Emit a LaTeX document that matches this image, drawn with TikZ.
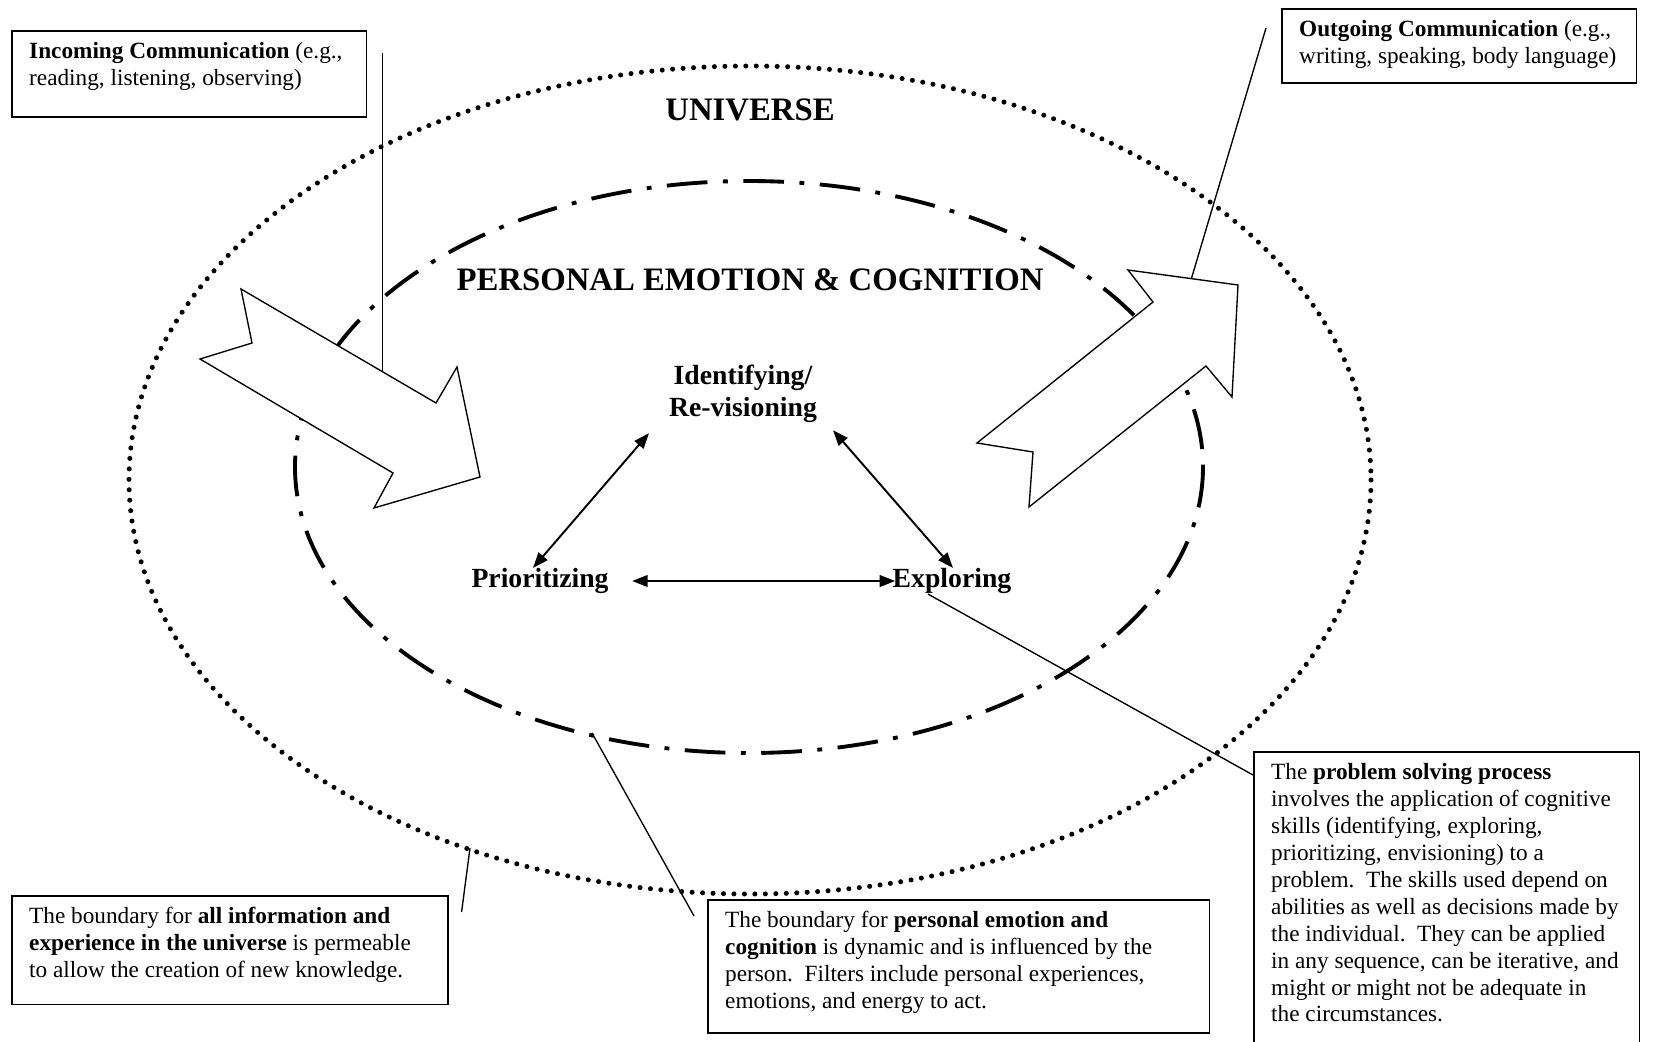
\documentclass[tikz,border=0pt]{standalone}
\usepackage{fontspec}
\setmainfont{Liberation Serif}
\usetikzlibrary{arrows.meta,calc}

\newcommand{\notebody}[3]{\parbox[t][#1][t]{#2}{\raggedright #3}}

\begin{document}
\begin{tikzpicture}[x=0.516pt,y=-0.516pt,
  note/.style={draw,line width=0.8pt,anchor=north west,inner xsep=9pt,inner ysep=6pt,font=\fontsize{12}{13.9}\selectfont},
  title/.style={font=\fontsize{16.9}{20}\selectfont\bfseries},
  skill/.style={font=\fontsize{14.3}{16.5}\selectfont\bfseries,align=center,inner sep=0pt},
  link/.style={{Triangle[length=8pt,width=6pt]}-{Triangle[length=8pt,width=6pt]},line width=1pt},
  pointer/.style={line width=0.7pt},
  universe/.style={line width=2.6pt,line cap=round,dash pattern=on 0pt off 5.4pt},
  personal/.style={line width=2pt,dash pattern=on 21pt off 8pt on 2.5pt off 8pt},
  bigarrow/.style={draw,fill=white,line width=0.7pt}]

\useasboundingbox (0,0) rectangle (1654,1042);
\clip (0,0) rectangle (1654,1042);

% the two boundaries
\draw[universe] (750,480) ellipse [x radius=621,y radius=414];
\draw[personal] (749,467) ellipse [x radius=454,y radius=286];

\node[title] (universe) at (750,110) {UNIVERSE};
\node[title] (personal) at (750,280) {PERSONAL EMOTION \& COGNITION};

% skills
\node[skill] (ident) at (743,394) {Identifying/\\Re-visioning};
\node[skill] (prio) at (540,581) {Prioritizing};
\node[skill] (expl) at (952,581) {Exploring};

\draw[link] ($(ident.south)+(-94,10)$) -- ($(prio.north)+(-7,0)$);
\draw[link] ($(ident.south)+(90,7)$) -- ($(expl.north)+(1,0)$);
\draw[link] ([xshift=12pt]prio.east) -- ([xshift=1.5pt]expl.west);

% notes
\node[note] (incoming) at (11,30) {\notebody{32.4pt}{165pt}{\textbf{Incoming Communication} (e.g.,\\
  reading, listening, observing)}};
\node[note] (outgoing) at (1281,8) {\notebody{26.2pt}{165pt}{\textbf{Outgoing Communication} (e.g.,\\
  writing, speaking, body language)}};
\node[note] (univnote) at (11,895) {\notebody{44.2pt}{207pt}{The boundary for \textbf{all information and}\\
  \textbf{experience in the universe} is permeable\\
  to allow the creation of new knowledge.}};
\node[note] (persnote) at (707,899) {\notebody{56.6pt}{241pt}{The boundary for \textbf{personal emotion and}\\
  \textbf{cognition} is dynamic and is influenced by the\\
  person.\ \ Filters include personal experiences,\\
  emotions, and energy to act.}};
\node[note] (probnote) at (1253,751) {\notebody{170pt}{181pt}{The \textbf{problem solving process}\\
  involves the application of cognitive\\
  skills (identifying, exploring,\\
  prioritizing, envisioning) to a\\
  problem.\ \ The skills used depend on\\
  abilities as well as decisions made by\\
  the individual.\ \ They can be applied\\
  in any sequence, can be iterative, and\\
  might or might not be adequate in\\
  the circumstances.}};

% pointers
\coordinate (univedge) at (470,848);
\coordinate (persedge) at (592,733);
\draw[pointer] ($(incoming.north east)+(15,23)$) -- ($(incoming.north east)+(15,355)$);
\draw[pointer] ($(outgoing.north west)+(-15,20)$) -- ($(outgoing.north west)+(-93,282)$);
\draw[pointer] ($(univnote.north east)+(13,17)$) -- (univedge);
\draw[pointer] ($(persnote.north west)+(-13,17)$) -- (persedge);
\draw[pointer] ($(expl.south)+(-24,0)$) -- ($(probnote.north west)+(0,24)$);

% communication arrows
\filldraw[bigarrow] (241,289) -- (252,343) -- (200,359) -- (393,473) -- (374,508)
  -- (480,477) -- (457,367) -- (436,403) -- cycle;
\filldraw[bigarrow] (1029,507) -- (1033,452) -- (977,443) -- (1153,302) -- (1128,270)
  -- (1238,285) -- (1232,397) -- (1206,366) -- cycle;

\end{tikzpicture}
\end{document}
